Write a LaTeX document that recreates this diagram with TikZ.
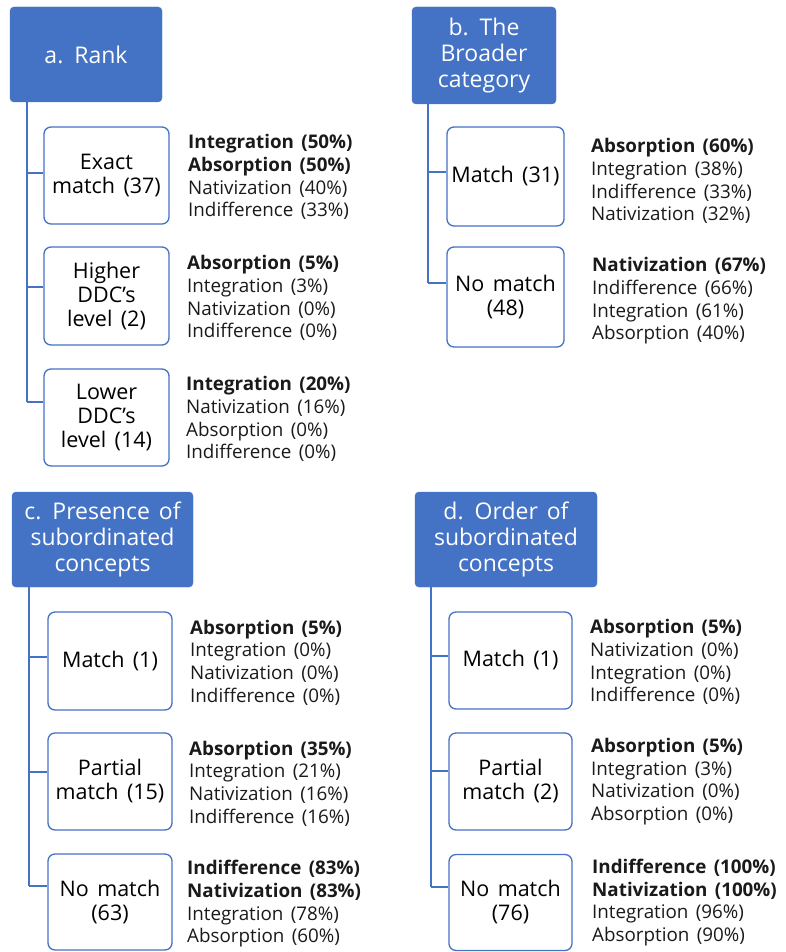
\documentclass[tikz,border=0pt]{standalone}
\usepackage{fontspec}
\setmainfont[WordSpace=1.5]{Open Sans}
\definecolor{obl}{HTML}{4472C4}
\definecolor{txt}{HTML}{1A1A1A}
\begin{document}
\begin{tikzpicture}[x=1pt,y=-1pt,
  hdr/.style={draw=obl, fill=obl, rounded corners=4pt, inner sep=0pt, text=white, align=center, font=\fontsize{23}{26}\selectfont},
  kid/.style={draw=obl, line width=1.3pt, fill=white, rounded corners=7pt, inner sep=0pt, text=black, align=center, font=\fontsize{21.5}{24}\selectfont},
  stat/.style={anchor=west, align=left, inner sep=0pt, text=txt, font=\fontsize{18.8}{22.7}\selectfont},
  conn/.style={draw=obl, line width=1.6pt}]
\useasboundingbox (0,0) rectangle (785,952);
\fill[white] (0,0) rectangle (785,952);

% ---------- a ----------
\node[hdr, minimum width=152pt, minimum height=95pt] (ha) at (86,54.5) {a. Rank};
\node[kid, minimum width=125pt, minimum height=97pt] (a1) at (106.5,175.5) {Exact\\match (37)};
\node[kid, minimum width=125pt, minimum height=98pt] (a2) at (106.5,296) {Higher\\DDC's\\level (2)};
\node[kid, minimum width=125pt, minimum height=97pt] (a3) at (106.5,417.5) {Lower\\DDC's\\level (14)};
\coordinate (ja1) at (27,173);
\coordinate (ja2) at (27,287);
\coordinate (ja3) at (27,402);
\draw[conn] (ha.south -| ja1) -- (ja3);
\draw[conn] (ja1) -- (ja1 -| a1.west);
\draw[conn] (ja2) -- (ja2 -| a2.west);
\draw[conn] (ja3) -- (ja3 -| a3.west);
\node[stat] (sa1) at (188,177) {\textbf{Integration (50\%)}\\\textbf{Absorption (50\%)}\\Nativization (40\%)\\Indifference (33\%)};
\node[stat] (sa2) at (187,298) {\textbf{Absorption (5\%)}\\Integration (3\%)\\Nativization (0\%)\\Indifference (0\%)};
\node[stat] (sa3) at (186,419) {\textbf{Integration (20\%)}\\Nativization (16\%)\\Absorption (0\%)\\Indifference (0\%)};

% ---------- b ----------
\node[hdr, minimum width=144pt, minimum height=97pt] (hb) at (484,55.5) {b. The\\Broader\\category};
\node[kid, minimum width=117pt, minimum height=99pt] (b1) at (505.5,176.5) {Match (31)};
\node[kid, minimum width=117pt, minimum height=100pt] (b2) at (505.5,297) {No match\\(48)};
\coordinate (jb1) at (428,172);
\coordinate (jb2) at (428,283);
\draw[conn] (hb.south -| jb1) -- (jb2);
\draw[conn] (jb1) -- (jb1 -| b1.west);
\draw[conn] (jb2) -- (jb2 -| b2.west);
\node[stat] (sb1) at (591,181) {\textbf{Absorption (60\%)}\\Integration (38\%)\\Indifference (33\%)\\Nativization (32\%)};
\node[stat] (sb2) at (592,301) {\textbf{Nativization (67\%)}\\Indifference (66\%)\\Integration (61\%)\\Absorption (40\%)};

% ---------- c ----------
\node[hdr, minimum width=181pt, minimum height=95pt] (hc) at (102.5,539.5) {c. Presence of\\subordinated\\concepts};
\node[kid, minimum width=124pt, minimum height=98pt] (c1) at (110,661) {Match (1)};
\node[kid, minimum width=124pt, minimum height=97pt] (c2) at (110,781.5) {Partial\\match (15)};
\node[kid, minimum width=124pt, minimum height=96pt] (c3) at (110,902) {No match\\(63)};
\coordinate (jc1) at (29,657);
\coordinate (jc2) at (29,772);
\coordinate (jc3) at (29,886);
\draw[conn] (hc.south -| jc1) -- (jc3);
\draw[conn] (jc1) -- (jc1 -| c1.west);
\draw[conn] (jc2) -- (jc2 -| c2.west);
\draw[conn] (jc3) -- (jc3 -| c3.west);
\node[stat] (sc1) at (190,662.5) {\textbf{Absorption (5\%)}\\Integration (0\%)\\Nativization (0\%)\\Indifference (0\%)};
\node[stat] (sc2) at (189,783.5) {\textbf{Absorption (35\%)}\\Integration (21\%)\\Nativization (16\%)\\Indifference (16\%)};
\node[stat] (sc3) at (187,904) {\textbf{Indifference (83\%)}\\\textbf{Nativization (83\%)}\\Integration (78\%)\\Absorption (60\%)};

% ---------- d ----------
\node[hdr, minimum width=182pt, minimum height=95pt] (hd) at (506,539.5) {d. Order of\\subordinated\\concepts};
\node[kid, minimum width=123pt, minimum height=97pt] (d1) at (510.5,660.5) {Match (1)};
\node[kid, minimum width=123pt, minimum height=97pt] (d2) at (510.5,781.5) {Partial\\match (2)};
\node[kid, minimum width=123pt, minimum height=96pt] (d3) at (510.5,902.5) {No match\\(76)};
\coordinate (jd1) at (431,656);
\coordinate (jd2) at (431,771);
\coordinate (jd3) at (431,887);
\draw[conn] (hd.south -| jd1) -- (jd3);
\draw[conn] (jd1) -- (jd1 -| d1.west);
\draw[conn] (jd2) -- (jd2 -| d2.west);
\draw[conn] (jd3) -- (jd3 -| d3.west);
\node[stat] (sd1) at (590,662) {\textbf{Absorption (5\%)}\\Nativization (0\%)\\Integration (0\%)\\Indifference (0\%)};
\node[stat] (sd2) at (591,781.5) {\textbf{Absorption (5\%)}\\Integration (3\%)\\Nativization (0\%)\\Absorption (0\%)};
\node[stat] (sd3) at (592,902.5) {\textbf{Indifference (100\%)}\\\textbf{Nativization (100\%)}\\Integration (96\%)\\Absorption (90\%)};
\end{tikzpicture}
\end{document}
